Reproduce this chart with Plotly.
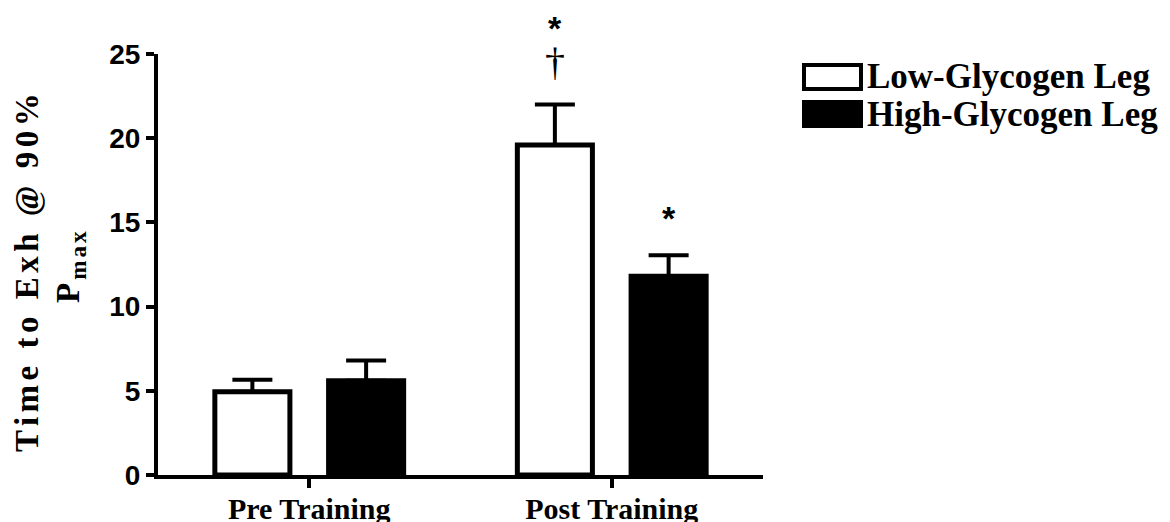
import plotly.graph_objects as go

categories = ["Pre Training", "Post Training"]
low_glycogen = [4.95, 19.6]
low_glycogen_err = [0.7, 2.4]
high_glycogen = [5.6, 11.8]
high_glycogen_err = [1.2, 1.25]
series_names = ["Low-Glycogen Leg", "High-Glycogen Leg"]
y_ticks = [0, 5, 10, 15, 20, 25]

W, H = 1170, 522
OFF = 8  # page body margin
ML, MT = 158 - OFF, 54 - OFF
MR, MB = W - (763 - OFF), H - (475 - OFF)
BARGAP = 0.248
BARGROUPGAP = 0.34

SERIF = "Liberation Serif"
SANS = "Liberation Sans"

fig = go.Figure()
fig.add_trace(go.Bar(
    x=categories, y=low_glycogen, name=series_names[0],
    marker=dict(color="white", line=dict(color="black", width=5)),
    error_y=dict(type="data", array=low_glycogen_err, arrayminus=[0, 0],
                 symmetric=False, color="black", thickness=4, width=20),
    showlegend=False,
))
fig.add_trace(go.Bar(
    x=categories, y=high_glycogen, name=series_names[1],
    marker=dict(color="black", line=dict(color="black", width=5)),
    error_y=dict(type="data", array=high_glycogen_err, arrayminus=[0, 0],
                 symmetric=False, color="black", thickness=4, width=20),
    showlegend=False,
))

slot = (1 - BARGAP) / 2
off_low = -slot / 2
off_high = slot / 2

fig.add_annotation(x=1 + off_low, y=low_glycogen[1] + low_glycogen_err[1],
                   text="†", showarrow=False, yanchor="middle", yshift=43,
                   font=dict(family=SERIF, size=40, color="black"))
fig.add_annotation(x=1 + off_low, y=low_glycogen[1] + low_glycogen_err[1],
                   text="*", showarrow=False, yanchor="middle", yshift=77,
                   font=dict(family=SANS, size=34, color="black", weight="bold"))
fig.add_annotation(x=1 + off_high, y=high_glycogen[1] + high_glycogen_err[1],
                   text="*", showarrow=False, yanchor="middle", yshift=37,
                   font=dict(family=SANS, size=34, color="black", weight="bold"))

pw = W - ML - MR
ph = H - MT - MB
def px_x(p):
    return (p - OFF - ML) / pw
def px_y(p):
    return 1 - (p - OFF - MT) / ph

fig.add_annotation(xref="paper", yref="paper", x=px_x(27), y=px_y(271),
                   text='<span style="letter-spacing:4.5px">Time to Exh @ 90%</span>',
                   textangle=-90, showarrow=False, xanchor="center", yanchor="middle",
                   font=dict(family=SERIF, size=33, color="black", weight="bold"))
fig.add_annotation(xref="paper", yref="paper", x=px_x(70), y=px_y(266),
                   text='<span style="letter-spacing:3px">P<sub>max</sub></span>',
                   textangle=-90, showarrow=False, xanchor="center", yanchor="middle",
                   font=dict(family=SERIF, size=33, color="black", weight="bold"))

legend_rows = [(77, "white"), (114, "black")]
for (cy, fill), name in zip(legend_rows, series_names):
    fig.add_shape(type="rect", xref="paper", yref="paper",
                  x0=px_x(804), x1=px_x(861), y0=px_y(cy - 12), y1=px_y(cy + 12),
                  fillcolor=fill, line=dict(color="black", width=4))
    fig.add_annotation(xref="paper", yref="paper", x=px_x(865), y=px_y(cy),
                       text=name, showarrow=False, xanchor="left", yanchor="middle",
                       font=dict(family=SERIF, size=35, color="black", weight="bold"))

fig.update_layout(
    width=W, height=H,
    margin=dict(l=ML, r=MR, t=MT, b=MB, pad=0),
    plot_bgcolor="white", paper_bgcolor="white",
    barmode="group", bargap=BARGAP, bargroupgap=BARGROUPGAP,
    showlegend=False,
    xaxis=dict(
        range=[-0.5, 1.5], showline=True, linecolor="black", linewidth=4,
        ticks="outside", ticklen=9, tickwidth=4, tickcolor="black",
        showgrid=False, zeroline=False, automargin=False, ticklabelstandoff=-5,
        tickfont=dict(family=SERIF, size=30, color="black", weight="bold"),
    ),
    yaxis=dict(
        range=[0, 25], tickvals=y_ticks, showline=True, linecolor="black", linewidth=4,
        ticks="outside", ticklen=8, tickwidth=4, tickcolor="black",
        showgrid=False, zeroline=False, automargin=False,
        tickfont=dict(family=SANS, size=28, color="black", weight="bold"),
    ),
)

fig.write_html("out.html")
